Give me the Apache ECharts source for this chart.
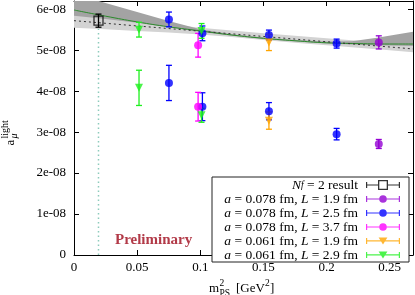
<!DOCTYPE html>
<html><head><meta charset="utf-8">
<script src="https://cdn.jsdelivr.net/npm/echarts@6/dist/echarts.min.js"></script>
<style>html,body{margin:0;padding:0;background:#fff}#c{width:415px;height:295px}</style>
</head><body><div id="c"></div>
<script>
const FONT = '"Liberation Serif", "Times New Roman", serif';

// ---- data (y in units of 1) ----
const nf2Data  = [[0.0194, 5.72e-8, 0.16e-8]];
const a078L19  = [[0.2414, 5.19e-8, 0.16e-8], [0.2414, 2.71e-8, 0.11e-8]];
const a078L25  = [[0.0752, 5.75e-8, 0.18e-8], [0.0752, 4.20e-8, 0.43e-8],
                  [0.1017, 5.41e-8, 0.18e-8], [0.1017, 3.62e-8, 0.34e-8],
                  [0.1544, 5.37e-8, 0.12e-8], [0.1544, 3.51e-8, 0.21e-8],
                  [0.2080, 5.16e-8, 0.11e-8], [0.2080, 2.95e-8, 0.14e-8]];
const a078L37  = [[0.0983, 5.12e-8, 0.29e-8], [0.0983, 3.62e-8, 0.35e-8]];
const a061L19  = [[0.1544, 5.19e-8, 0.20e-8], [0.1544, 3.28e-8, 0.21e-8]];
const a061L29  = [[0.0515, 5.50e-8, 0.18e-8], [0.0515, 4.08e-8, 0.43e-8],
                  [0.1010, 5.47e-8, 0.18e-8], [0.1010, 3.41e-8, 0.17e-8]];

const greenFitX = [0, 0.025, 0.05, 0.075, 0.1, 0.125, 0.15, 0.175, 0.2, 0.225, 0.25, 0.2685];
const greenFitY = [5.98e-8, 5.83e-8, 5.69e-8, 5.57e-8, 5.47e-8, 5.37e-8, 5.29e-8, 5.23e-8, 5.18e-8, 5.16e-8, 5.15e-8, 5.15e-8];
const linFitX = [0, 0.2685];
const linFitY = [5.72e-8, 5.03e-8];

const lightX  = [0, 0.025, 0.05, 0.075, 0.1, 0.125, 0.15, 0.175, 0.2, 0.225, 0.25, 0.2685];
const lightHi = [5.89e-8, 5.80e-8, 5.71e-8, 5.63e-8, 5.55e-8, 5.48e-8, 5.41e-8, 5.35e-8, 5.29e-8, 5.23e-8, 5.17e-8, 5.12e-8];
const lightLo = [5.55e-8, 5.51e-8, 5.47e-8, 5.43e-8, 5.38e-8, 5.32e-8, 5.25e-8, 5.18e-8, 5.12e-8, 5.06e-8, 5.00e-8, 4.95e-8];
const darkX  = [0, 0.025, 0.05, 0.075, 0.1, 0.125, 0.15, 0.175, 0.2, 0.22, 0.24, 0.2685];
const darkHi = [6.38e-8, 6.15e-8, 5.93e-8, 5.71e-8, 5.51e-8, 5.39e-8, 5.31e-8, 5.25e-8, 5.21e-8, 5.22e-8, 5.30e-8, 5.45e-8];
const darkLo = [5.84e-8, 5.76e-8, 5.67e-8, 5.56e-8, 5.45e-8, 5.35e-8, 5.27e-8, 5.21e-8, 5.16e-8, 5.14e-8, 5.12e-8, 5.10e-8];

const physX = [0.0194];
const xTicks = [0, 0.05, 0.1, 0.15, 0.2, 0.25];
const yTickUnit = 1e-8;

const names = ['Nf=2 result', 'a=0.078 L=1.9', 'a=0.078 L=2.5', 'a=0.078 L=3.7', 'a=0.061 L=1.9', 'a=0.061 L=2.9'];
const legendRich = {
  'Nf=2 result':   '{i|N}{s|f}{r| = 2 result}',
  'a=0.078 L=1.9': '{i|a}{r| = 0.078 fm, }{i|L}{r| = 1.9 fm}',
  'a=0.078 L=2.5': '{i|a}{r| = 0.078 fm, }{i|L}{r| = 2.5 fm}',
  'a=0.078 L=3.7': '{i|a}{r| = 0.078 fm, }{i|L}{r| = 3.7 fm}',
  'a=0.061 L=1.9': '{i|a}{r| = 0.061 fm, }{i|L}{r| = 1.9 fm}',
  'a=0.061 L=2.9': '{i|a}{r| = 0.061 fm, }{i|L}{r| = 2.9 fm}'
};

const BAR = 'M0,4.4H34V5.6H0Z M0,2H1.2V8H0Z M32.8,2H34V8H32.8Z ';
const ICON_CIRC = 'path://' + BAR + 'M20.8,5A3.8,3.8 0 1 1 13.2,5A3.8,3.8 0 1 1 20.8,5Z';
const ICON_TRI = 'path://' + BAR + 'M12.6,1.5H21.4L17,8.6Z';
const ICON_SQ = 'path://M0,4.4H12V5.6H0Z M22,4.4H34V5.6H22Z M0,2H1.2V8H0Z M32.8,2H34V8H32.8Z M12,0H22V10H12Z M13.3,1.3V8.7H20.7V1.3Z';

function errRender(color) {
  return function (params, api) {
    const x = api.value(0), y = api.value(1), e = api.value(2);
    const hi = api.coord([x, y + e]), lo = api.coord([x, y - e]);
    const w = 3;
    const st = {stroke: color, lineWidth: 1.3};
    return {type: 'group', children: [
      {type: 'line', shape: {x1: hi[0], y1: hi[1], x2: lo[0], y2: lo[1]}, style: st},
      {type: 'line', shape: {x1: hi[0] - w, y1: hi[1], x2: hi[0] + w, y2: hi[1]}, style: st},
      {type: 'line', shape: {x1: lo[0] - w, y1: lo[1], x2: lo[0] + w, y2: lo[1]}, style: st}
    ]};
  };
}
function bandRender(xs, lo, hi, fill) {
  return function (params, api) {
    const pts = [];
    for (let i = 0; i < xs.length; i++) pts.push(api.coord([xs[i], hi[i]]));
    for (let i = xs.length - 1; i >= 0; i--) pts.push(api.coord([xs[i], lo[i]]));
    return {type: 'polygon', shape: {points: pts}, style: {fill: fill}};
  };
}
const zip = (a, b) => a.map((v, i) => [v, b[i]]);

function dataset(name, data, color, symbol, size, rotate, itemStyle) {
  return [
    {type: 'custom', name: name + ' err', data: data, renderItem: errRender(color),
     encode: {x: 0, y: 1}, z: 5, silent: true},
    {type: 'scatter', name: name, data: data.map(d => [d[0], d[1]]), symbol: symbol,
     symbolSize: size, symbolRotate: rotate, z: 6,
     itemStyle: itemStyle || {color: color}, emphasis: {disabled: true}}
  ];
}

const xFmt = v => {
  for (const t of xTicks) if (Math.abs(v - t) < 1e-9) return String(t);
  return '';
};
const yFmt = v => {
  const r = v / yTickUnit;
  if (Math.abs(r - Math.round(r)) > 1e-6) return '';
  const n = Math.round(r);
  return n === 0 ? '0' : n + 'e-08';
};

const axisCommon = {
  axisLine: {show: true, onZero: false, lineStyle: {color: '#000', width: 1}},
  axisTick: {show: true, inside: true, length: 5, lineStyle: {color: '#000', width: 1}},
  splitLine: {show: false}
};

const chart = echarts.init(document.getElementById('c'), null, {renderer: 'canvas'});
chart.setOption({
  animation: false,
  backgroundColor: '#fff',
  grid: {left: 74, right: 2, top: 1, bottom: 40, containLabel: false, outerBoundsMode: 'none'},
  xAxis: [
    Object.assign({type: 'value', min: 0, max: 0.2685, interval: 0.05, position: 'bottom',
      axisLabel: {formatter: xFmt, fontFamily: FONT, fontSize: 13, color: '#000', margin: 6,
                  showMaxLabel: false}}, axisCommon),
    Object.assign({type: 'value', min: 0, max: 0.2685, interval: 0.05, position: 'top',
      axisLabel: {show: false}}, axisCommon)
  ],
  yAxis: [
    Object.assign({type: 'value', min: 0, max: 6.2e-8, interval: 1e-8, position: 'left',
      axisLabel: {formatter: yFmt, fontFamily: FONT, fontSize: 13, color: '#000', margin: 8,
                  showMaxLabel: false}}, axisCommon),
    Object.assign({type: 'value', min: 0, max: 6.2e-8, interval: 1e-8, position: 'right',
      axisLabel: {show: false}}, axisCommon)
  ],
  legend: {
    orient: 'vertical', align: 'right', left: 212, top: 177,
    padding: [1, 9, 0, 4], itemGap: 0, itemWidth: 34, itemHeight: 10,
    backgroundColor: '#fff', borderColor: '#222', borderWidth: 1, borderRadius: 0,
    selectedMode: false, symbolKeepAspect: true,
    itemStyle: {borderWidth: 0},
    formatter: n => legendRich[n],
    textStyle: {
      fontFamily: FONT, fontSize: 13.5, color: '#000', lineHeight: 12.35,
      width: 142, align: 'right', padding: [0, 3, 0, 0],
      rich: {
        i: {fontFamily: FONT, fontStyle: 'italic', fontSize: 13.5, lineHeight: 12.35},
        r: {fontFamily: FONT, fontSize: 13.5, lineHeight: 12.35},
        s: {fontFamily: FONT, fontStyle: 'italic', fontSize: 9.5, lineHeight: 9}
      }
    },
    data: [
      {name: names[0], icon: ICON_SQ, itemStyle: {color: '#000', borderWidth: 0}},
      {name: names[1], icon: ICON_CIRC},
      {name: names[2], icon: ICON_CIRC},
      {name: names[3], icon: ICON_CIRC},
      {name: names[4], icon: ICON_TRI},
      {name: names[5], icon: ICON_TRI}
    ]
  },
  graphic: [
    {type: 'text', left: 115, top: 233, z: 10,
     style: {text: 'Preliminary', font: 'bold 15px ' + FONT, fill: '#b23a48'}},
    {type: 'group', x: 209, y: 288.5, children: [
      {type: 'text', x: 0, y: 0, style: {text: 'm', font: '13px ' + FONT, fill: '#000', verticalAlign: 'middle'}},
      {type: 'text', x: 10.5, y: -5.5, style: {text: '2', font: '9.5px ' + FONT, fill: '#000', verticalAlign: 'middle'}},
      {type: 'text', x: 10.5, y: 4.5, style: {text: 'PS', font: '9.5px ' + FONT, fill: '#000', verticalAlign: 'middle'}},
      {type: 'text', x: 27, y: 0, style: {text: '[GeV', font: '13px ' + FONT, fill: '#000', verticalAlign: 'middle'}},
      {type: 'text', x: 56, y: -5, style: {text: '2', font: '9.5px ' + FONT, fill: '#000', verticalAlign: 'middle'}},
      {type: 'text', x: 61, y: 0, style: {text: ']', font: '13px ' + FONT, fill: '#000', verticalAlign: 'middle'}}
    ]},
    {type: 'group', x: 15, y: 145.5, rotation: Math.PI / 2, children: [
      {type: 'text', x: 0, y: -4.4, style: {text: 'a', font: '13px ' + FONT, fill: '#000', verticalAlign: 'middle'}},
      {type: 'text', x: 7, y: -10, style: {text: 'light', font: '10px ' + FONT, fill: '#000', verticalAlign: 'middle'}},
      {type: 'text', x: 7, y: -1, style: {text: 'μ', font: 'italic 10px ' + FONT, fill: '#000', verticalAlign: 'middle'}}
    ]}
  ],
  series: [
    {type: 'line', name: 'phys', data: [[physX[0], 0], [physX[0], 6.2e-8]], symbol: 'none', z: 1,
     lineStyle: {color: '#8ccbbb', width: 1.5, type: [1.5, 3]}, silent: true},
    {type: 'custom', name: 'lightband', data: [[0, 5e-8]], encode: {x: 0, y: 1}, clip: true, z: 2, silent: true,
     renderItem: bandRender(lightX, lightLo, lightHi, '#d3d3d3')},
    {type: 'custom', name: 'darkband', data: [[0, 5e-8]], encode: {x: 0, y: 1}, clip: true, z: 2, silent: true,
     renderItem: bandRender(darkX, darkLo, darkHi, '#a3a3a3')},
    {type: 'line', name: 'greenfit', data: zip(greenFitX, greenFitY), smooth: true, symbol: 'none', z: 3,
     lineStyle: {color: '#2b8a2b', width: 1}, silent: true},
    {type: 'line', name: 'linfit', data: zip(linFitX, linFitY), symbol: 'none', z: 3,
     lineStyle: {color: '#333', width: 1, type: [2, 3]}, silent: true},
    ...dataset(names[0], nf2Data, '#000', 'rect', 9, 0,
               {color: 'rgba(0,0,0,0)', borderColor: '#000', borderWidth: 1.3}),
    ...dataset(names[1], a078L19, '#9400d3', 'circle', 8, 0),
    ...dataset(names[2], a078L25, '#0000ff', 'circle', 8, 0),
    ...dataset(names[3], a078L37, '#ff00ff', 'circle', 8, 0),
    ...dataset(names[4], a061L19, '#ffa500', 'triangle', 8, 180),
    ...dataset(names[5], a061L29, '#1ef01e', 'triangle', 8, 180)
  ]
});
</script>
</body></html>
